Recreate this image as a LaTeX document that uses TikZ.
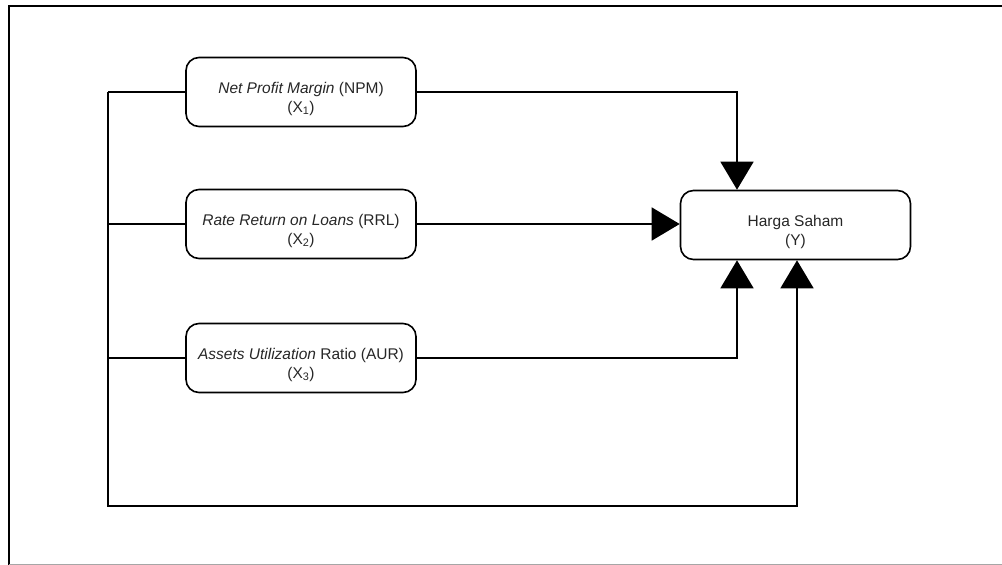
\documentclass[tikz,border=0pt]{standalone}
\usepackage{fontspec}
\setmainfont{Liberation Sans}
\usetikzlibrary{arrows.meta}
\begin{document}
\begin{tikzpicture}[x=1pt,y=-1pt,
  box/.style={draw, line width=1.6pt, rounded corners=13pt, minimum width=230pt, minimum height=69pt, inner sep=0pt},
  lbl/.style={align=center, font=\fontsize{15.5}{19}\selectfont, inner sep=0pt, text=black!85},
  conn/.style={line width=1.5pt},
  arr/.style={conn, -{Triangle[width=33pt,length=28pt]}}]
\useasboundingbox (0,0) rectangle (1002,565);
\draw[line width=2.8pt] (9,565) -- (9,6) -- (1002,6);
\draw[black!35, line width=1pt] (9,564) -- (1002,564);

\node[box] (npm) at (301,92) {};
\node[box] (rrl) at (301,224) {};
\node[box] (aur) at (301,358) {};
\node[box] (y) at (795.5,225) {};

\node[lbl] (npmt) at ([yshift=-6.5pt]npm.center) {\textit{Net Profit Margin} (NPM)\\(X\textsubscript{1})};
\node[lbl] (rrlt) at ([yshift=-6.5pt]rrl.center) {\textit{Rate Return on Loans} (RRL)\\(X\textsubscript{2})};
\node[lbl] (aurt) at ([yshift=-6.5pt]aur.center) {\textit{Assets Utilization} Ratio (AUR)\\(X\textsubscript{3})};
\node[lbl] (yt) at ([yshift=-6.5pt]y.center) {Harga Saham\\(Y)};

\coordinate (colA) at (737,0);
\coordinate (colB) at (797,0);
\coordinate (bus) at (108,506);

\draw[arr] (npm.east) -| (colA |- y.north);
\draw[arr] (rrl.east) -- (rrl.east -| y.west);
\draw[arr] (aur.east) -| (colA |- y.south);

\draw[conn] (npm.west) -- (npm.west -| bus);
\draw[conn] (rrl.west) -- (rrl.west -| bus);
\draw[conn] (aur.west) -- (aur.west -| bus);
\draw[arr] (npm.west -| bus) -- (bus) -| (colB |- y.south);
\end{tikzpicture}
\end{document}
